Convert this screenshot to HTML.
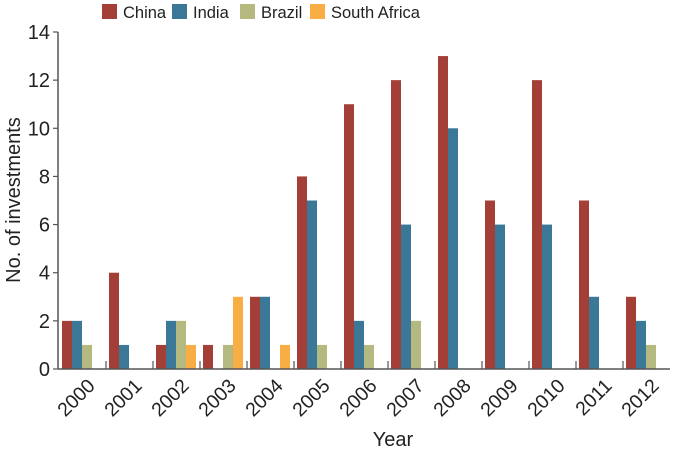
<!DOCTYPE html>
<html><head><meta charset="utf-8"><style>
body{margin:0;background:#fff;font-family:"Liberation Sans",Arial,sans-serif}
svg text{font-family:"Liberation Sans",Arial,sans-serif;fill:#222}
</style></head><body>
<svg id="chart" width="675" height="453" xmlns="http://www.w3.org/2000/svg"></svg>
<script>
const years=["2000","2001","2002","2003","2004","2005","2006","2007","2008","2009","2010","2011","2012"];
const seriesNames=["China","India","Brazil","South Africa"];
const china=[2,4,1,1,3,8,11,12,13,7,12,7,3];
const india=[2,1,2,0,3,7,2,6,10,6,6,3,2];
const brazil=[1,0,2,1,0,1,1,2,0,0,0,0,1];
const southAfrica=[0,0,1,3,1,0,0,0,0,0,0,0,0];
const yTicks=[0,2,4,6,8,10,12,14];
const colors=["#a33f37","#3b7898","#b3b97f","#f9ad45"];
const svg=document.getElementById('chart');
const NS="http://www.w3.org/2000/svg";
const y0=369,yTop=32,yMax=14,x0=58,groupStart=62,groupW=47,barW=10;
const y=v=>y0-(v/yMax)*(y0-yTop);
const gx=i=>groupStart+i*groupW;
function mk(t,a,p){const e=document.createElementNS(NS,t);for(const k in a)e.setAttribute(k,a[k]);(p||svg).appendChild(e);return e;}
const series=[china,india,brazil,southAfrica];
series.forEach((s,si)=>{s.forEach((v,i)=>{if(v<=0)return;
const r=mk('rect',{x:gx(i)+si*barW,y:y(v),width:barW,height:y0-y(v),fill:colors[si]});

});});
const ya=mk('line',{x1:x0,y1:yTop,x2:x0,y2:y0,stroke:'#555','stroke-width':1.5});


const xa=mk('line',{x1:x0,y1:y0,x2:670,y2:y0,stroke:'#555','stroke-width':1.5});


yTicks.forEach(t=>{mk('line',{x1:x0-5,y1:y(t),x2:x0,y2:y(t),stroke:'#555','stroke-width':1.2});
const tx=mk('text',{x:x0-8,y:y(t)+7,'text-anchor':'end','font-size':20});tx.textContent=t;

});
years.forEach((yr,i)=>{
if(i>0)mk('line',{x1:gx(i)-3,y1:y0,x2:gx(i)-3,y2:y0-8,stroke:'#555','stroke-width':1.2});
const cx=gx(i)+22;
const tx=mk('text',{x:cx+12,y:y0+18,'text-anchor':'end','font-size':19.5,transform:`rotate(-45 ${cx+12} ${y0+18})`});tx.textContent=yr;

});
const xt=mk('text',{x:393,y:446,'text-anchor':'middle','font-size':20});xt.textContent='Year';


const yt=mk('text',{x:20,y:200,'text-anchor':'middle','font-size':20,transform:'rotate(-90 20 200)'});yt.textContent='No. of investments';


const lx=[102,172,240,310];
seriesNames.forEach((n,i)=>{
const g=mk('g',{});


mk('rect',{x:lx[i],y:4,width:15,height:15,fill:colors[i]},g);
const t=mk('text',{x:lx[i]+21,y:18,'font-size':16.5},g);t.textContent=n;});
</script>
</body></html>
